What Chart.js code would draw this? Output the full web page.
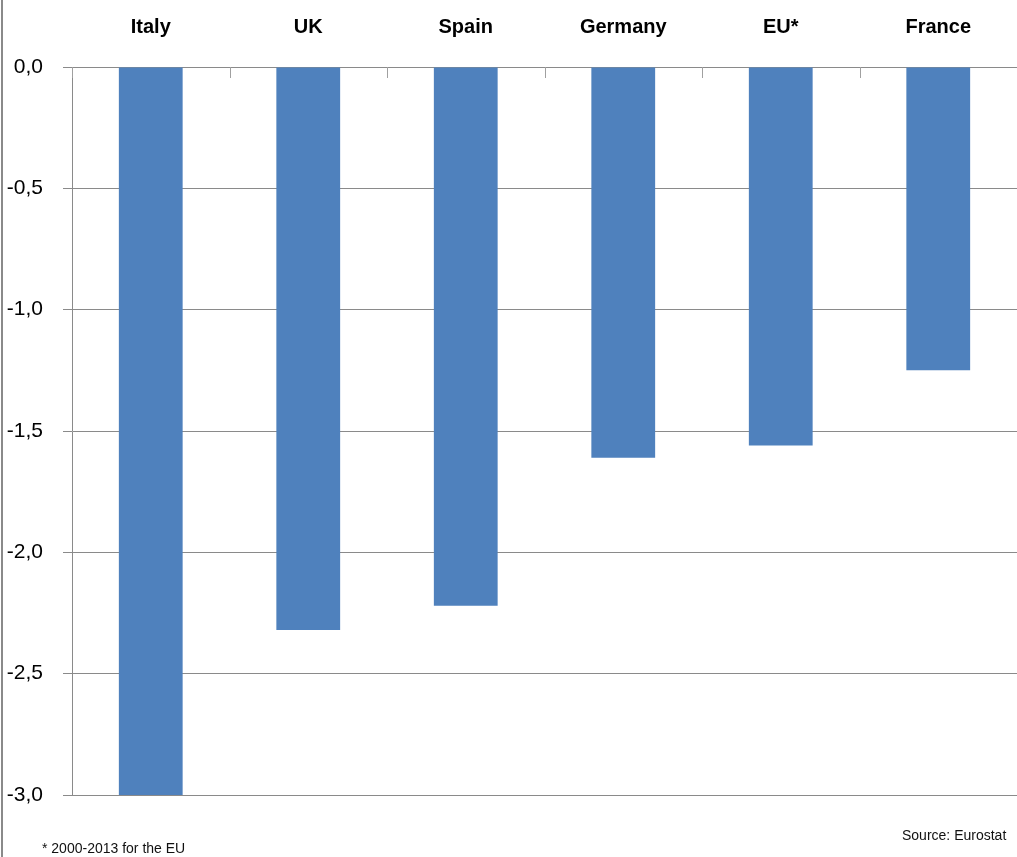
<!DOCTYPE html>
<html>
<head>
<meta charset="utf-8">
<script src="https://cdn.jsdelivr.net/npm/chart.js@4"></script>
<style>
  html, body { margin: 0; padding: 0; background: #fff; overflow: hidden; }
  #wrap { position: relative; width: 1017px; height: 857px; }
  #edge { position: absolute; left: 1px; top: 0; width: 0; height: 857px; border-left: 2px solid #8a8a8a; }
  .note { position: absolute; font-family: "Liberation Sans", sans-serif; font-size: 14px; color: #111; white-space: nowrap; }
</style>
</head>
<body>
<div id="wrap">
  <canvas id="chart" width="1017" height="857"></canvas>
  <div id="edge"></div>
  <div class="note" style="left:42px; top:840px;">* 2000-2013 for the EU</div>
  <div class="note" style="left:902px; top:827px;">Source: Eurostat</div>
</div>
<script>
// values
const countries = ["Italy", "UK", "Spain", "Germany", "EU*", "France"];
const change = [-3.0, -2.32, -2.22, -1.61, -1.56, -1.25];
const yTicks = [0, -0.5, -1.0, -1.5, -2.0, -2.5, -3.0];

const fontFamily = '"Liberation Sans", sans-serif';

// short tick marks pointing down from the top axis, at category boundaries
const innerTicks = {
  id: "innerTicks",
  afterDatasetsDraw(chart) {
    const x = chart.scales.x;
    const top = chart.chartArea.top;
    const ctx = chart.ctx;
    ctx.save();
    ctx.strokeStyle = "#a0a0a0";
    ctx.lineWidth = 1;
    for (let i = 0; i <= countries.length; i++) {
      const px = Math.round(x.getPixelForValue(i - 0.5)) + 0.5;
      ctx.beginPath();
      ctx.moveTo(px, top);
      ctx.lineTo(px, top + 11);
      ctx.stroke();
    }
    ctx.restore();
  },
};

new Chart(document.getElementById("chart").getContext("2d"), {
  type: "bar",
  data: {
    labels: countries,
    datasets: [
      {
        data: change,
        backgroundColor: "#4F81BD",
        borderWidth: 0,
        categoryPercentage: 1,
        barPercentage: 0.405,
      },
    ],
  },
  options: {
    responsive: false,
    animation: false,
    layout: { padding: { top: 0, bottom: 62, left: 0, right: 0 } },
    plugins: {
      legend: { display: false },
      tooltip: { enabled: false },
    },
    scales: {
      x: {
        position: "top",
        afterFit(scale) {
          scale.height = 67;
        },
        grid: { display: false },
        border: { display: false },
        ticks: {
          color: "#000",
          padding: 20,
          font: { family: fontFamily, size: 20, weight: "bold" },
        },
      },
      y: {
        min: -3,
        max: 0,
        afterFit(scale) {
          scale.width = 72;
        },
        afterBuildTicks(scale) {
          scale.ticks = yTicks.map((v) => ({ value: v }));
        },
        grid: { color: "#8a8a8a", lineWidth: 1, tickLength: 9 },
        border: { display: true, color: "#8a8a8a", width: 1 },
        ticks: {
          color: "#000",
          padding: 20,
          font: { family: fontFamily, size: 21 },
          callback: (v) => v.toFixed(1).replace(".", ","),
        },
      },
    },
  },
  plugins: [innerTicks],
});
</script>
</body>
</html>
